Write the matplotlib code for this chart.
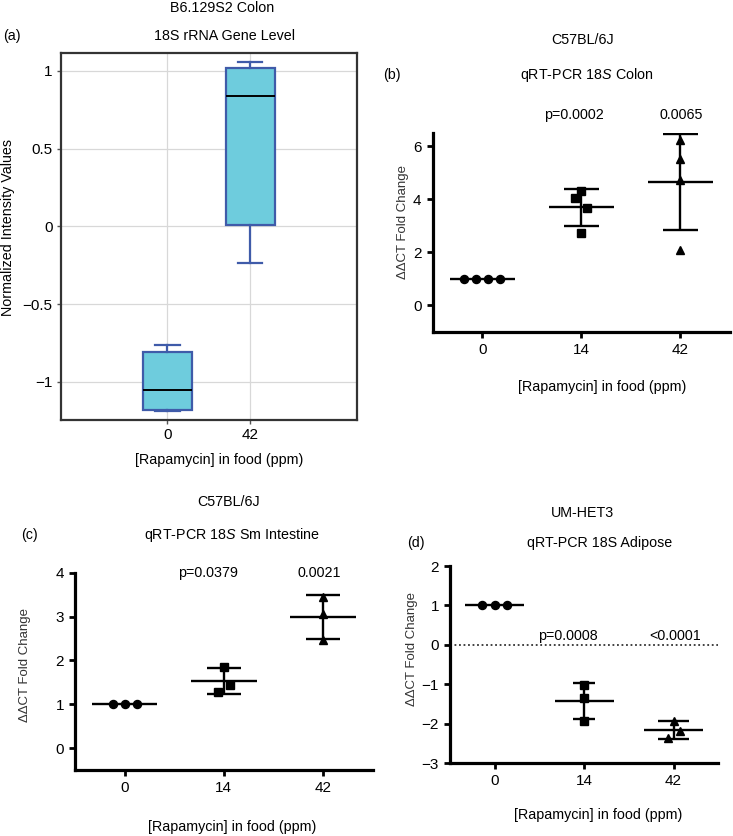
import numpy as np
import matplotlib
matplotlib.use("Agg")
import matplotlib.pyplot as plt

plt.rcParams['font.family'] = ['Liberation Sans', 'DejaVu Sans']
plt.rcParams['mathtext.fontset'] = 'custom'
plt.rcParams['mathtext.rm'] = 'Liberation Sans'
plt.rcParams['mathtext.it'] = 'Liberation Sans:italic'
plt.rcParams['axes.unicode_minus'] = True

# ---------------- data ----------------
dose_labels = ["0", "14", "42"]

# (a) box plot summary stats, doses 0 and 42
a_labels = ["0", "42"]
a_whislo = [-1.19, -0.235]
a_q1 = [-1.18, 0.01]
a_med = [-1.05, 0.84]
a_q3 = [-0.81, 1.02]
a_whishi = [-0.765, 1.06]

# (b) C57BL/6J colon
b_0 = [1.0, 1.0, 1.0, 1.0]
b_14 = [4.30, 4.05, 3.67, 2.74]
b_42 = [6.25, 5.50, 4.71, 2.09]
b_p = ["p=0.0002", "0.0065"]

# (c) C57BL/6J small intestine
c_0 = [1.0, 1.0, 1.0]
c_14 = [1.86, 1.44, 1.29]
c_42 = [3.45, 3.05, 2.46]
c_p = ["p=0.0379", "0.0021"]

# (d) UM-HET3 adipose
d_0 = [1.0, 1.0, 1.0]
d_14 = [-1.02, -1.34, -1.92]
d_42 = [-1.92, -2.185, -2.36]
d_p = ["p=0.0008", "<0.0001"]

# ---------------- figure ----------------
W, H = 733, 836
fig = plt.figure(figsize=(W / 100, H / 100), dpi=100)


def px_axes(l, t, r, b):
    return fig.add_axes([l / W, 1 - b / H, (r - l) / W, (b - t) / H])


def ftext(x, y, s, **kw):
    kw.setdefault('ha', 'center')
    kw.setdefault('va', 'center')
    kw.setdefault('fontsize', 10.3)
    fig.text(x / W, 1 - y / H, s, **kw)


# ---------- panel (a) ----------
axa = px_axes(61, 53, 357, 420)
stats = []
for i in range(len(a_labels)):
    stats.append(dict(whislo=a_whislo[i], q1=a_q1[i], med=a_med[i],
                      q3=a_q3[i], whishi=a_whishi[i], fliers=[]))
blue = '#3F5BA9'
axa.bxp(stats, positions=[1, 2], widths=0.59, patch_artist=True,
        showfliers=False,
        boxprops=dict(facecolor='#6ECCDD', edgecolor=blue, linewidth=1.6),
        whiskerprops=dict(color=blue, linewidth=1.6),
        capprops=dict(color=blue, linewidth=1.6),
        medianprops=dict(color='black', linewidth=1.4),
        capwidths=0.3, zorder=3)
axa.set_xlim(-0.28, 3.29)
axa.set_ylim(-1.245, 1.115)
axa.set_yticks([-1, -0.5, 0, 0.5, 1])
axa.set_yticklabels(['\u22121', '\u22120.5', '0', '0.5', '1'])
axa.set_xticks([1, 2])
axa.set_xticklabels(a_labels)
axa.grid(True, color='#d8d8d8', linewidth=0.9, zorder=0)
axa.set_axisbelow(True)
for sp in axa.spines.values():
    sp.set_color('#333333')
    sp.set_linewidth(1.6)
axa.tick_params(direction='out', length=3, width=1, color='#555555',
                labelsize=11, pad=3)

ftext(222, 8, "B6.129S2 Colon")
ftext(224, 36, "18S rRNA Gene Level")
ftext(12, 36, "(a)")
ftext(8, 227, "Normalized Intensity Values", rotation=90)
ftext(219, 460, "[Rapamycin] in food (ppm)")


# ---------- scatter panels ----------
def dot_panel(ax, groups, offsets, capw, ylim, yticks):
    markers = ['o', 's', '^']
    msizes = [5.8, 5.6, 5.8]
    for i, vals in enumerate(groups):
        vals = np.asarray(vals, dtype=float)
        xs = i + np.asarray(offsets[i])
        m = vals.mean()
        ax.hlines(m, i - 0.33, i + 0.33, color='black', lw=1.7, zorder=3)
        if len(vals) > 1 and vals.std(ddof=1) > 0:
            sd = vals.std(ddof=1)
            ax.vlines(i, m - sd, m + sd, color='black', lw=1.7, zorder=3)
            ax.hlines([m - sd, m + sd], i - capw[i], i + capw[i],
                      color='black', lw=1.7, zorder=3)
        ax.plot(xs, vals, linestyle='none', marker=markers[i],
                markersize=msizes[i], color='black', zorder=4, clip_on=False)
    ax.set_xlim(-0.5, 2.5)
    ax.set_ylim(*ylim)
    ax.set_yticks(yticks)
    ax.set_yticklabels([('\u2212' + str(-t)) if t < 0 else str(t) for t in yticks])
    ax.set_xticks(range(len(dose_labels)))
    ax.set_xticklabels(dose_labels)
    for s in ['top', 'right']:
        ax.spines[s].set_visible(False)
    for s in ['left', 'bottom']:
        ax.spines[s].set_linewidth(2.3)
        ax.spines[s].set_color('black')
    ax.tick_params(direction='out', length=4, width=2, labelsize=11, pad=4)


# (b)
axb = px_axes(432.7, 133, 730, 331.7)
dot_panel(axb, [b_0, b_14, b_42],
          [[-0.18, -0.06, 0.06, 0.18], [0.0, -0.065, 0.06, 0.0], [0, 0, 0, 0]],
          [0.17, 0.175, 0.175], (-1, 6.5), [0, 2, 4, 6])
ftext(583, 40, "C57BL/6J")
ftext(587, 75, r"qRT-PCR $\mathit{18S}$ Colon")
ftext(392, 75, "(b)")
ftext(574, 115, b_p[0])
ftext(681, 115, b_p[1])
ftext(403, 222, "\u0394\u0394CT Fold Change", rotation=90, fontsize=9.5,
      color='#333333')
ftext(602, 387, "[Rapamycin] in food (ppm)")

# (c)
axc = px_axes(75, 572.7, 372.7, 770)
dot_panel(axc, [c_0, c_14, c_42],
          [[-0.12, 0, 0.12], [0.0, 0.06, -0.055], [0, 0, 0]],
          [0.17, 0.173, 0.173], (-0.5, 4), [0, 1, 2, 3, 4])
ftext(229, 502, "C57BL/6J")
ftext(232, 535, r"qRT-PCR $\mathit{18S}$ Sm Intestine")
ftext(29, 535, "(c)")
ftext(208, 573, c_p[0])
ftext(319, 573, c_p[1])
ftext(25, 665, "\u0394\u0394CT Fold Change", rotation=90, fontsize=9.5,
      color='#333333')
ftext(232, 827, "[Rapamycin] in food (ppm)")

# (d)
axd = px_axes(450, 566, 718.3, 763.3)
axd.axhline(0, color='#333333', lw=1.3, ls=(0, (1, 1.5)), zorder=1)
dot_panel(axd, [d_0, d_14, d_42],
          [[-0.137, 0, 0.137], [0, 0, 0], [0.0, 0.067, -0.063]],
          [0.17, 0.12, 0.173], (-3, 2), [-3, -2, -1, 0, 1, 2])
ftext(583, 513, "UM-HET3")
ftext(600, 543, "qRT-PCR 18S Adipose")
ftext(416, 543, "(d)")
ftext(568, 636, d_p[0])
ftext(675, 636, d_p[1])
ftext(412, 649, "\u0394\u0394CT Fold Change", rotation=90, fontsize=9.5,
      color='#333333')
ftext(598, 815, "[Rapamycin] in food (ppm)")

fig.savefig("out.png", dpi=100)
